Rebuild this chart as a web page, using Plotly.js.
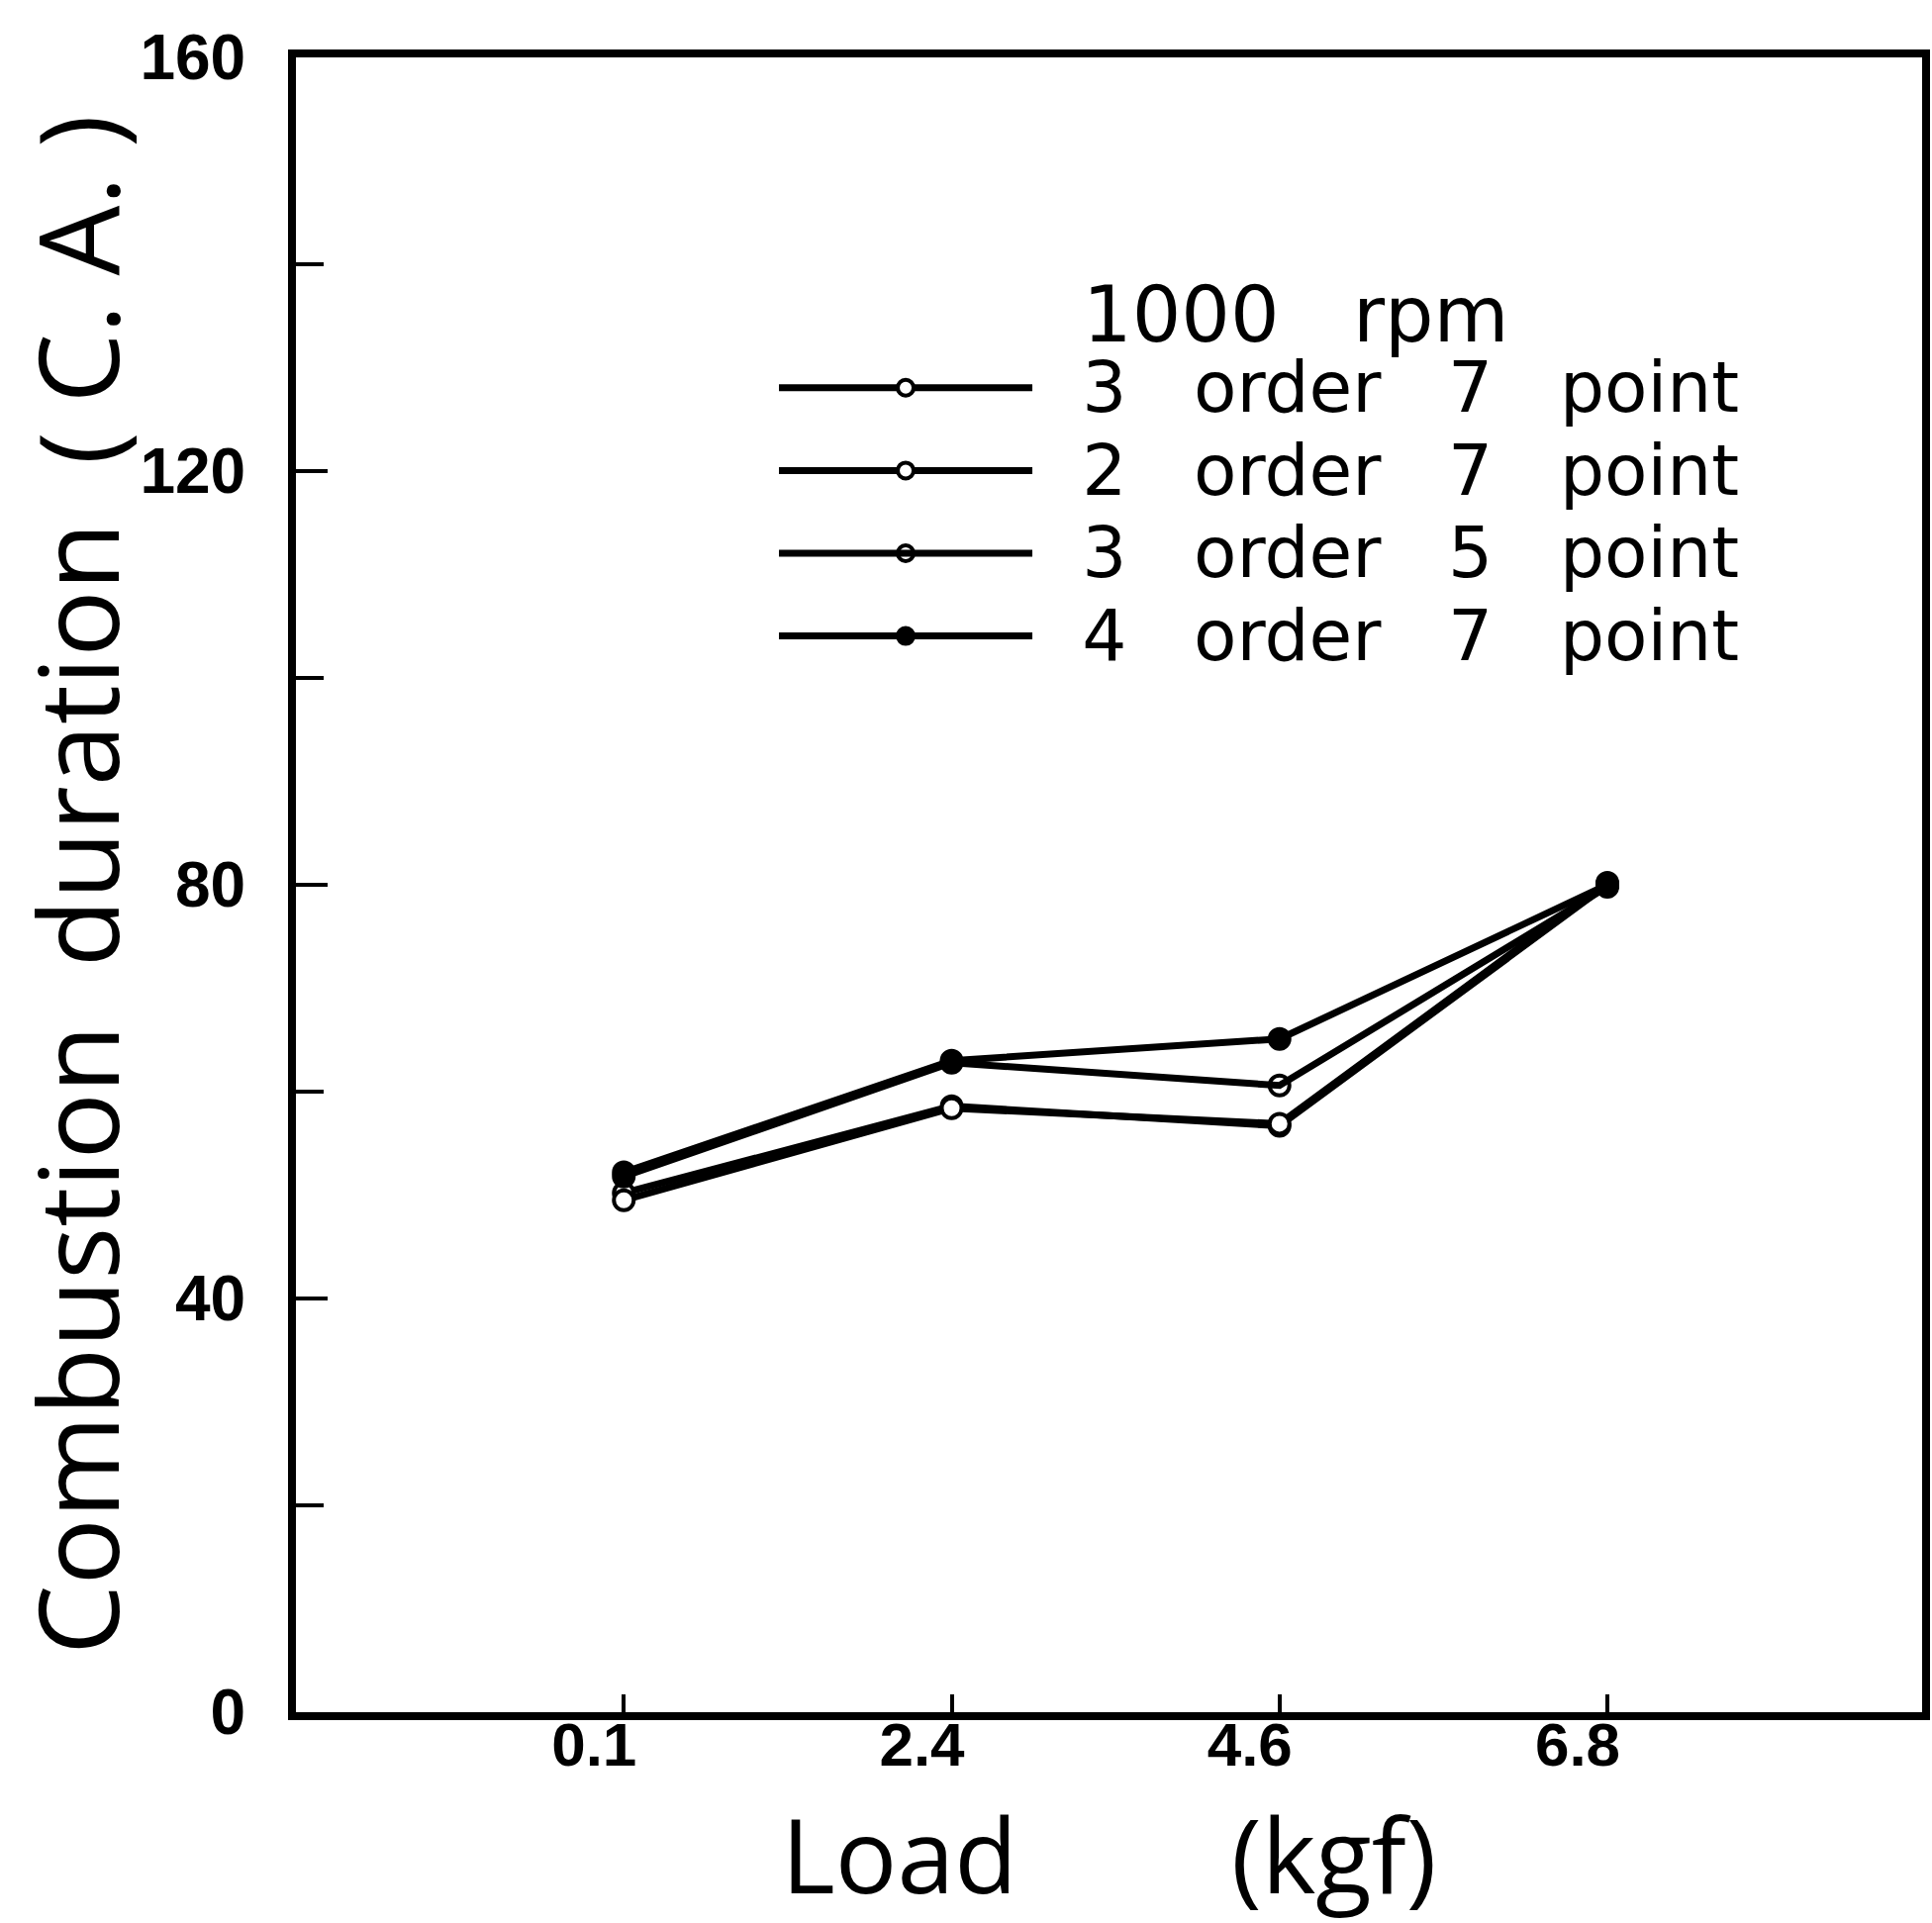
<!DOCTYPE html>
<html>
<head>
<meta charset="utf-8">
<script src="https://cdn.plot.ly/plotly-3.0.1.min.js"></script>
<style>html,body{margin:0;padding:0;background:#fff;}#chart{width:1952px;height:1943px;}</style>
</head>
<body>
<div id="chart"></div>
<script>
// Categories (load, kgf)
const loads = ['0.1', '2.4', '4.6', '6.8'];
// Series values: combustion duration (C.A.)
const order3point7 = [50.2, 58.6, 56.7, 80.0];
const order2point7 = [49.5, 58.4, 56.9, 80.2];
const order3point5 = [51.8, 62.8, 60.6, 79.8];
const order4point7 = [52.2, 63.0, 65.1, 80.0];
const seriesNames = ['3 order 7 point', '2 order 7 point', '3 order 5 point', '4 order 7 point'];
const yTickVals = [0, 40, 80, 120, 160];
const legendTitle = '1000 rpm';

const NB = '\u00a0';
function spaced(s, n) { return s.split(' ').join(NB.repeat(n)); }

const seriesValues = [order3point7, order2point7, order3point5, order4point7];
const markerStyles = [
  {symbol: 'circle', color: '#ffffff', size: 20, line: {color: '#000', width: 4}},
  {symbol: 'circle', color: '#ffffff', size: 20, line: {color: '#000', width: 4}},
  {symbol: 'circle-open-dot', color: '#000000', size: 20, line: {color: '#000', width: 4}},
  {symbol: 'circle', color: '#000000', size: 20, line: {color: '#000', width: 4}}
];

const traces = seriesValues.map((vals, i) => ({
  type: 'scatter',
  mode: 'lines+markers',
  x: loads,
  y: vals,
  name: '<span style="font-family:\'DejaVu Sans\';font-size:71px">' + NB + NB + spaced(seriesNames[i], 3) + '</span>',
  line: {color: '#000', width: 7},
  marker: markerStyles[i]
}));

const layout = {
  width: 1952,
  height: 1943,
  paper_bgcolor: '#fff',
  plot_bgcolor: '#fff',
  margin: {l: 299, r: 10, t: 58, b: 213},
  font: {family: 'Open Sans', color: '#000'},
  showlegend: true,
  legend: {
    x: 0.294, y: 0.889, xanchor: 'left', yanchor: 'top',
    bgcolor: 'rgba(0,0,0,0)',
    font: {family: 'DejaVu Sans', size: 62, color: '#000'},
    itemwidth: 256,
    title: {text: NB + NB + NB + spaced(legendTitle, 3), side: 'top center', font: {family: 'DejaVu Sans', size: 78, color: '#000'}}
  },
  xaxis: {
    type: 'category',
    categoryorder: 'array',
    categoryarray: loads,
    range: [-1, 3.96],
    showline: true, mirror: true, linecolor: '#000', linewidth: 8,
    showgrid: false, zeroline: false,
    ticks: 'inside', ticklen: 18, tickwidth: 4, tickcolor: '#000',
    tickfont: {family: 'Liberation Sans', size: 62, weight: 'bold', color: '#000'},
    ticklabelstandoff: -28,
    ticklabelshift: -30,
    automargin: false,
    title: {text: 'Load' + NB.repeat(8) + '(kgf)', font: {family: 'Open Sans', size: 104, color: '#000'}, standoff: 55}
  },
  yaxis: {
    range: [0, 160],
    tickmode: 'array', tickvals: yTickVals, ticktext: yTickVals.map(String),
    showline: true, mirror: true, linecolor: '#000', linewidth: 8,
    showgrid: false, zeroline: false,
    ticks: 'inside', ticklen: 32, tickwidth: 4, tickcolor: '#000',
    minor: {tickmode: 'linear', tick0: 0, dtick: 20, ticks: 'inside', ticklen: 28, tickwidth: 4, tickcolor: '#000', showgrid: false},
    tickfont: {family: 'Liberation Sans', size: 64, weight: 'bold', color: '#000'},
    ticklabelstandoff: 30,
    automargin: false,
    title: {text: 'Combustion' + NB + NB + 'duration' + NB + NB + '(' + NB + 'C.' + NB + 'A.' + NB + ')', font: {family: 'Open Sans', size: 112, color: '#000'}, standoff: 0}
  }
};

Plotly.newPlot('chart', traces, layout, {displayModeBar: false, staticPlot: true});
</script>
</body>
</html>
